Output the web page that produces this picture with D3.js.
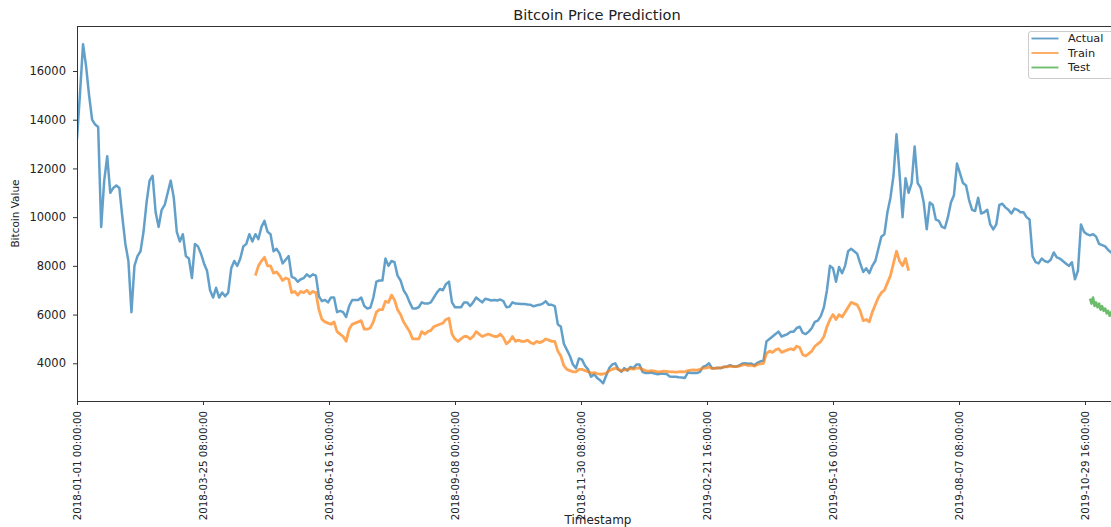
<!DOCTYPE html>
<html><head><meta charset="utf-8">
<script src="https://cdn.jsdelivr.net/npm/d3@7"></script>
<style>
body{margin:0;background:#fff;}
svg{display:block;}
text{font-family:"DejaVu Sans",sans-serif;fill:#222;}
</style>
</head><body><svg id="c" width="1111" height="527"></svg>
<script>
const chartTitle = "Bitcoin Price Prediction";
const xLabel = "Timestamp";
const yLabel = "Bitcoin Value";
const seriesNames = ["Actual", "Train", "Test"];
const seriesColors = ["#1f77b4", "#ff7f0e", "#2ca02c"];
const xTickLabels = ["2018-01-01 00:00:00","2018-03-25 08:00:00","2018-06-16 16:00:00","2018-09-08 00:00:00","2018-11-30 08:00:00","2019-02-21 16:00:00","2019-05-16 00:00:00","2019-08-07 08:00:00","2019-10-29 16:00:00"];
const yTickValues = [4000, 6000, 8000, 10000, 12000, 14000, 16000];
const xDomain = ["2018-01-01 00:00:00", "2019-11-19 20:00:00"];
const yDomain = [2452, 17847];

const actualStart = "2018-01-01 00:00:00", actualStepDays = 2;
const actual = [
13200,15100,17100,16200,15000,14000,13800,13700,9600,11500,
12500,11000,11200,11300,11200,10000,8900,8200,6100,8000,
8400,8600,9400,10600,11500,11700,10200,9600,10300,10500,
11000,11500,10800,9400,9000,9300,8400,8300,7500,8900,
8800,8500,8100,7800,7000,6700,7100,6700,6900,6750,
6900,7900,8200,8000,8300,8800,8900,9300,9000,9300,
9100,9600,9850,9400,9300,8600,8700,8500,8100,8250,
8400,7550,7500,7350,7450,7500,7650,7550,7650,7600,
6750,6550,6600,6500,6700,6700,6100,6150,6100,5900,
6350,6600,6600,6600,6700,6350,6250,6280,6700,7350,
7400,7400,8300,8000,8200,8150,7600,7400,7000,6800,
6500,6250,6250,6300,6500,6450,6450,6500,6700,6900,
7050,7000,7250,7350,6500,6300,6300,6300,6500,6500,
6350,6500,6700,6600,6500,6650,6620,6580,6600,6580,
6620,6550,6300,6320,6500,6450,6440,6430,6430,6410,
6400,6340,6380,6400,6450,6550,6400,6400,6350,5600,
5500,4800,4550,4300,3950,3800,4200,4150,3900,3750,
3450,3550,3400,3300,3180,3500,3800,3950,4000,3750,
3650,3800,3700,3850,3800,3950,3950,3650,3600,3600,
3620,3580,3550,3570,3570,3560,3460,3450,3450,3430,
3420,3400,3620,3600,3600,3600,3650,3850,3900,4000,
3800,3800,3820,3800,3850,3870,3920,3870,3870,3910,
3990,4000,3980,3990,3920,4020,4080,4100,4900,5000,
5100,5200,5300,5100,5150,5200,5300,5300,5450,5500,
5250,5200,5300,5450,5700,5750,5950,6300,7000,8000,
7900,7350,7950,7700,8000,8600,8700,8600,8500,8100,
7750,7900,7700,8000,8200,8700,9200,9300,10200,10800,
11700,13400,11800,10000,11600,11000,11400,12900,11400,11200,
10600,9500,10600,10500,9900,9850,9600,9550,10000,10600,
10900,12200,11800,11400,11300,10700,10300,10250,10800,10150,
10200,10300,9700,9500,9700,10500,10550,10400,10300,10150,
10350,10300,10200,10200,10000,9900,8400,8150,8100,8300,
8200,8150,8250,8550,8350,8300,8200,8100,8000,8150,
7450,7800,9700,9400,9300,9250,9300,9200,8900,8850,
8800,8650,8550,8450
];

const trainStart = "2018-04-29 00:00:00", trainStepDays = 2;
const train = [
7600,8000,8200,8350,8000,8000,7700,7750,7600,7400,
7500,7450,6900,6950,6800,6950,6900,7000,6850,6950,
6900,6200,5800,5700,5650,5600,5700,5300,5200,5100,
4900,5400,5600,5650,5700,5750,5400,5400,5450,5700,
6100,6200,6200,6550,6500,6800,6600,6200,6000,5700,
5500,5300,5000,5000,5000,5300,5200,5300,5350,5500,
5550,5600,5650,5800,5850,5200,5000,4900,5000,5100,
5100,5000,5100,5300,5200,5100,5150,5200,5150,5100,
5100,5200,5050,4800,4900,5100,4900,4950,4900,4900,
4950,4850,4800,4900,4850,4900,5000,4950,4900,4900,
4500,4300,3900,3750,3700,3650,3650,3750,3750,3700,
3650,3600,3620,3580,3550,3560,3600,3700,3750,3800,
3750,3700,3720,3750,3780,3760,3800,3800,3750,3700,
3680,3700,3680,3650,3660,3680,3670,3650,3650,3640,
3650,3660,3650,3700,3720,3730,3720,3750,3800,3800,
3850,3780,3800,3800,3820,3850,3850,3880,3860,3860,
3880,3920,3950,3900,3920,3880,3950,3980,4000,4400,
4500,4450,4550,4600,4450,4500,4550,4600,4550,4700,
4650,4350,4300,4400,4500,4700,4800,4900,5100,5500,
5800,6000,5800,6000,5900,6100,6300,6500,6450,6400,
6150,5750,5800,5700,6100,6400,6700,6900,7000,7300,
7600,8100,8600,8200,8000,8300,7800
];

const testStart = "2019-11-02 00:00:00", testStepDays = 1;
const test = [6650,6450,6700,6350,6500,6300,6450,6200,6350,6150,6250,6050,6150,5950,6100,5900,6000];

// ---------------------------------------------------------------
const parse = d3.utcParse("%Y-%m-%d %H:%M:%S");
function toPoints(start, step, vals) {
  const s = parse(start);
  return vals.map((v, i) => ({ date: d3.utcDay.offset(s, i * step), value: v }));
}
const seriesData = [
  toPoints(actualStart, actualStepDays, actual),
  toPoints(trainStart, trainStepDays, train),
  toPoints(testStart, testStepDays, test)
];

const L = 77, T = 26, R = 1117, B = 401;
const svg = d3.select("#c");

const x = d3.scaleUtc().domain(xDomain.map(parse)).range([L, R]);
const y = d3.scaleLinear().domain(yDomain).range([B, T]);

svg.append("defs").append("clipPath").attr("id", "clip")
  .append("rect").attr("x", L).attr("y", T).attr("width", R - L).attr("height", B - T);

const line = d3.line().x(d => x(d.date)).y(d => y(d.value));
const plot = svg.append("g").attr("clip-path", "url(#clip)");
seriesData.forEach((pts, i) => {
  plot.append("path").datum(pts)
    .attr("d", line)
    .attr("fill", "none")
    .attr("stroke", seriesColors[i])
    .attr("stroke-opacity", 0.7)
    .attr("stroke-width", i === 1 ? 2.8 : 2.5)
    .attr("stroke-linejoin", "round");
});

// Y axis
const yAxis = svg.append("g").attr("transform", `translate(${L},0)`)
  .call(d3.axisLeft(y).tickValues(yTickValues).tickSize(4).tickPadding(7).tickFormat(d3.format("d")));
yAxis.select(".domain").remove();
yAxis.selectAll("line").attr("stroke", "#333");
yAxis.selectAll("text").style("font-size", "11.5px").attr("fill", "#222");

// X axis
const xAxis = svg.append("g").attr("transform", `translate(0,${B})`)
  .call(d3.axisBottom(x).tickValues(xTickLabels.map(parse)).tickSize(4)
    .tickFormat(d => d3.utcFormat("%Y-%m-%d %H:%M:%S")(d)));
xAxis.select(".domain").remove();
xAxis.selectAll("line").attr("stroke", "#333");
xAxis.selectAll("text")
  .style("font-size", "10.3px").attr("fill", "#222")
  .attr("transform", "rotate(-90)")
  .attr("text-anchor", "end")
  .attr("x", -10).attr("y", 0).attr("dy", "0.35em");

// spines
svg.append("rect").attr("x", L).attr("y", T).attr("width", R - L).attr("height", B - T)
  .attr("fill", "none").attr("stroke", "#333").attr("stroke-width", 1)
  .attr("shape-rendering", "crispEdges");

// title and labels
svg.append("text").attr("x", (L + R) / 2).attr("y", 20).attr("text-anchor", "middle")
  .style("font-size", "14.6px").text(chartTitle);
svg.append("text").attr("x", (L + R) / 2 + 1).attr("y", 524).attr("text-anchor", "middle")
  .style("font-size", "12px").text(xLabel);
svg.append("text").attr("transform", `translate(19,${(T + B) / 2}) rotate(-90)`)
  .attr("text-anchor", "middle").style("font-size", "10.5px").text(yLabel);

// legend
const lg = svg.append("g");
lg.append("rect").attr("x", 1028.5).attr("y", 31.5).attr("width", 110).attr("height", 47)
  .attr("rx", 2.5).attr("fill", "#fff").attr("fill-opacity", 0.8).attr("stroke", "#ccc");
seriesNames.forEach((n, i) => {
  const yy = 38.5 + i * 14.5;
  lg.append("line").attr("x1", 1031.5).attr("x2", 1058.5).attr("y1", yy).attr("y2", yy)
    .attr("stroke", seriesColors[i]).attr("stroke-opacity", 0.7).attr("stroke-width", 1.8);
  lg.append("text").attr("x", 1068).attr("y", yy).attr("dy", "0.35em")
    .style("font-size", "11.3px").text(n);
});
</script>
</body></html>
